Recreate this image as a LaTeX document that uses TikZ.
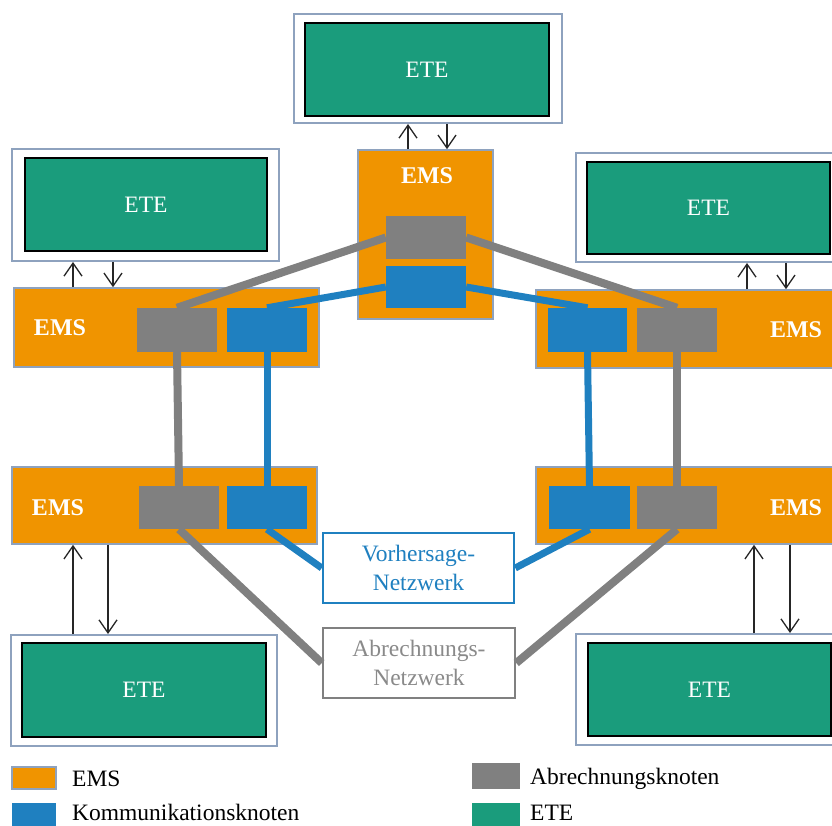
\documentclass[tikz,border=0pt]{standalone}
\usepackage{fontspec}
\setmainfont{Liberation Serif}
\usetikzlibrary{arrows.meta}
\definecolor{emsc}{RGB}{240,148,0}
\definecolor{etec}{RGB}{26,156,124}
\definecolor{bluec}{RGB}{31,128,192}
\definecolor{grayc}{RGB}{128,128,128}
\definecolor{framec}{RGB}{142,162,190}
\definecolor{abrtext}{RGB}{138,138,138}
\begin{document}
\begin{tikzpicture}[x=1pt,y=-1pt,
  txt/.style={font=\fontsize{23.5}{29}\selectfont},
  frame/.style={draw=framec,line width=2pt,fill=white,inner sep=0pt},
  ete/.style={txt,fill=etec,draw=black,line width=2.2pt,text=white,inner sep=0pt},
  ems/.style={fill=emsc,draw=framec,line width=1.6pt,inner sep=0pt},
  emslabel/.style={txt,font=\fontsize{24}{29}\selectfont\bfseries,text=white,inner sep=0pt},
  gbox/.style={fill=grayc,draw=none,minimum width=80pt,minimum height=43pt,inner sep=0pt},
  bbox/.style={fill=bluec,draw=none,minimum width=80pt,minimum height=43pt,inner sep=0pt},
  gline/.style={draw=grayc,line width=8pt},
  bline/.style={draw=bluec,line width=7pt},
  arr/.style={draw=black!85,line width=1.3pt,-{Straight Barb[length=13pt,width=18pt,line width=1.3pt]}},
  netbox/.style={txt,fill=white,line width=2.5pt,align=center,inner sep=0pt,minimum width=191pt,minimum height=70pt},
  legtext/.style={txt,anchor=base west,inner sep=0pt}
]
\clip (0,0) rectangle (832,826);
\fill[white] (0,0) rectangle (832,826);

% ---- top ----
\node[frame,minimum width=268pt,minimum height=109pt] (F0) at (428,68.5) {};
\node[ete,minimum width=244pt,minimum height=93pt] (E0) at (427,69.5) {ETE};
\node[ems,minimum width=135pt,minimum height=169pt] (M0) at (425.5,234.5) {};
\node[emslabel] (M0t) at (427,176) {EMS};

% ---- left top ----
\node[frame,minimum width=267pt,minimum height=112pt] (F1) at (145.5,205) {};
\node[ete,minimum width=242pt,minimum height=93pt] (E1) at (146,204.5) {ETE};
\node[ems,minimum width=305pt,minimum height=79pt] (M1) at (166.5,327.5) {};
\node[emslabel] (M1t) at (60,328) {EMS};

% ---- right top ----
\node[frame,minimum width=267pt,minimum height=109pt] (F2) at (709.5,207.5) {};
\node[ete,minimum width=243pt,minimum height=92pt] (E2) at (708.5,208) {ETE};
\node[ems,minimum width=304pt,minimum height=78pt] (M2) at (688,329) {};
\node[emslabel] (M2t) at (796,330) {EMS};

% ---- left bottom ----
\node[ems,minimum width=305pt,minimum height=77pt] (M3) at (164.5,505.5) {};
\node[emslabel] (M3t) at (58,508) {EMS};
\node[frame,minimum width=266pt,minimum height=111pt] (F3) at (144,690.5) {};
\node[ete,minimum width=244pt,minimum height=94pt] (E3) at (144,690) {ETE};

% ---- right bottom ----
\node[ems,minimum width=304pt,minimum height=77pt] (M4) at (688,505.5) {};
\node[emslabel] (M4t) at (796,508) {EMS};
\node[frame,minimum width=267pt,minimum height=111pt] (F4) at (709.5,689.5) {};
\node[ete,minimum width=243pt,minimum height=93pt] (E4) at (709.5,689.5) {ETE};

% ---- network boxes ----
\node[netbox,draw=bluec,text=bluec] (V) at (418.5,568) {Vorhersage-\\Netzwerk};
\node[netbox,draw=grayc,text=abrtext,minimum width=192pt] (A) at (419,663) {Abrechnungs-\\Netzwerk};

% ---- small node boxes ----
\node[gbox] (TG) at (426,237.5) {};
\node[bbox,minimum height=42pt] (TB) at (426,287) {};
\node[gbox,minimum height=44pt] (G1) at (177,330) {};
\node[bbox,minimum height=44pt] (B1) at (267,330) {};
\node[bbox,minimum width=79pt,minimum height=44pt] (B2) at (587.5,330) {};
\node[gbox,minimum height=44pt] (G2) at (677,330) {};
\node[gbox] (G3) at (179,507.5) {};
\node[bbox] (B3) at (267,507.5) {};
\node[bbox,minimum width=81pt] (B4) at (589.5,507.5) {};
\node[gbox] (G4) at (677,507.5) {};

% ---- network lines ----
\draw[gline] (G1.north) -- (TG.west);
\draw[gline] (TG.east) -- (G2.north);
\draw[bline] (B1.north) -- (TB.west);
\draw[bline] (TB.east) -- (B2.north);
\draw[gline] (G1.south) -- (G3.north);
\draw[bline] (B1.south) -- (B3.north);
\draw[bline] (B2.south) -- (B4.north);
\draw[gline] (G2.south) -- (G4.north);
\draw[bline] (B3.south) -- (V.west);
\draw[bline] (B4.south) -- (V.east);
\draw[gline] (G3.south) -- (A.west);
\draw[gline] (G4.south) -- (A.east);

% ---- arrows ----
\coordinate (a0u) at (408,0); \coordinate (a0d) at (447,0);
\coordinate (a1u) at (73,0);  \coordinate (a1d) at (113,0);
\coordinate (a2u) at (747,0); \coordinate (a2d) at (786,0);
\coordinate (a3u) at (73,0);  \coordinate (a3d) at (108,0);
\coordinate (a4u) at (754,0); \coordinate (a4d) at (790,0);
\draw[arr] (M0.north -| a0u) -- (F0.south -| a0u);
\draw[arr] (F0.south -| a0d) -- (M0.north -| a0d);
\draw[arr] (M1.north -| a1u) -- (F1.south -| a1u);
\draw[arr] (F1.south -| a1d) -- (M1.north -| a1d);
\draw[arr] (M2.north -| a2u) -- (F2.south -| a2u);
\draw[arr] (F2.south -| a2d) -- (M2.north -| a2d);
\draw[arr] (F3.north -| a3u) -- (M3.south -| a3u);
\draw[arr] (M3.south -| a3d) -- (F3.north -| a3d);
\draw[arr] (F4.north -| a4u) -- (M4.south -| a4u);
\draw[arr] (M4.south -| a4d) -- (F4.north -| a4d);

% ---- legend ----
\node[fill=emsc,draw=framec,line width=1.5pt,minimum width=44pt,minimum height=22pt,inner sep=0pt] (L1) at (34,778) {};
\node[legtext] (L1t) at (72,786) {EMS};
\node[fill=bluec,minimum width=44pt,minimum height=27pt,inner sep=0pt] (L2) at (34,816.5) {};
\node[legtext] (L2t) at (72,820) {Kommunikationsknoten};
\node[fill=grayc,minimum width=48pt,minimum height=26pt,inner sep=0pt] (L3) at (496,776) {};
\node[legtext] (L3t) at (530,784) {Abrechnungsknoten};
\node[fill=etec,minimum width=48pt,minimum height=27pt,inner sep=0pt] (L4) at (496,816.5) {};
\node[legtext] (L4t) at (530,820) {ETE};
\end{tikzpicture}
\end{document}
